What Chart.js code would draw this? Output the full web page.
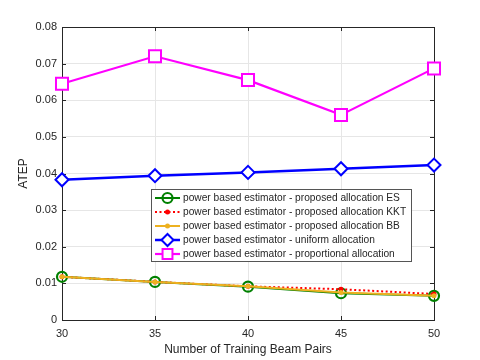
<!DOCTYPE html>
<html>
<head>
<meta charset="utf-8">
<script src="https://cdn.jsdelivr.net/npm/chart.js@4/dist/chart.umd.min.js"></script>
<style>
  html, body { margin: 0; padding: 0; background: #fff; }
  canvas { display: block; }
</style>
</head>
<body>
<canvas id="chart" width="480" height="360"></canvas>
<script>
const beamPairs = [30, 35, 40, 45, 50];
const yTicks = [0, 0.01, 0.02, 0.03, 0.04, 0.05, 0.06, 0.07, 0.08];

const esValues = [0.0118, 0.0104, 0.0091, 0.0073, 0.0066];
const kktValues = [0.0118, 0.0104, 0.0092, 0.0084, 0.0071];
const bbValues = [0.0118, 0.0104, 0.0092, 0.0075, 0.0066];
const uniformValues = [0.0383, 0.0394, 0.0403, 0.0413, 0.0423];
const proportionalValues = [0.0645, 0.0720, 0.0655, 0.0560, 0.0687];

const seriesLabels = [
  "power based estimator - proposed allocation ES",
  "power based estimator - proposed allocation KKT",
  "power based estimator - proposed allocation BB",
  "power based estimator - uniform allocation",
  "power based estimator - proportional allocation",
];

const FONT = "'Liberation Sans', Arial, sans-serif";
const AXIS_COLOR = "#262626";

function toPoints(values) {
  return values.map((v, i) => ({ x: beamPairs[i], y: v }));
}

const datasets = [
  {
    label: seriesLabels[4],
    data: toPoints(proportionalValues),
    borderColor: "#ff00ff",
    backgroundColor: "#ffffff",
    borderWidth: 2.2,
    pointStyle: "rect",
    pointRadius: 8.5,
    pointBorderWidth: 2,
    order: 5,
  },
  {
    label: seriesLabels[3],
    data: toPoints(uniformValues),
    borderColor: "#0000ff",
    backgroundColor: "#ffffff",
    borderWidth: 2.5,
    pointStyle: "rectRot",
    pointRadius: 6.5,
    pointBorderWidth: 2,
    order: 4,
  },
  {
    label: seriesLabels[0],
    data: toPoints(esValues),
    borderColor: "#008000",
    backgroundColor: "rgba(0,0,0,0)",
    borderWidth: 2,
    pointStyle: "circle",
    pointRadius: 5,
    pointBorderWidth: 2.2,
    order: 3,
  },
  {
    label: seriesLabels[1],
    data: toPoints(kktValues),
    borderColor: "#ff0000",
    backgroundColor: "#ff0000",
    borderWidth: 2,
    borderDash: [2, 2.5],
    pointStyle: "circle",
    pointRadius: 2.5,
    pointBorderWidth: 0,
    order: 2,
  },
  {
    label: seriesLabels[2],
    data: toPoints(bbValues),
    borderColor: "#edb120",
    backgroundColor: "#edb120",
    borderWidth: 2,
    pointStyle: "circle",
    pointRadius: 2.5,
    pointBorderWidth: 0,
    order: 1,
  },
];
datasets.forEach((d) => { d.clip = false; });

// axes box + inward ticks, like the original plot
const boxPlugin = {
  id: "box",
  beforeDatasetsDraw(chart) {
    const { ctx, chartArea: a, scales } = chart;
    ctx.save();
    ctx.strokeStyle = AXIS_COLOR;
    ctx.lineWidth = 1;
    ctx.strokeRect(a.left + 0.5, a.top + 0.5, a.right - a.left, a.bottom - a.top);
    ctx.beginPath();
    beamPairs.forEach((v) => {
      const px = Math.round(scales.x.getPixelForValue(v)) + 0.5;
      ctx.moveTo(px, a.bottom); ctx.lineTo(px, a.bottom - 4);
      ctx.moveTo(px, a.top); ctx.lineTo(px, a.top + 4);
    });
    yTicks.forEach((v) => {
      const py = Math.round(scales.y.getPixelForValue(v)) + 0.5;
      ctx.moveTo(a.left, py); ctx.lineTo(a.left + 4, py);
      ctx.moveTo(a.right, py); ctx.lineTo(a.right - 4, py);
    });
    ctx.stroke();
    ctx.restore();
  },
};

// legend box drawn inside the plot with line + marker samples
const legendPlugin = {
  id: "boxLegend",
  afterDraw(chart) {
    const ctx = chart.ctx;
    const x0 = 151, y0 = 189, w = 260, h = 72, rowH = 14;
    ctx.save();
    ctx.fillStyle = "#ffffff";
    ctx.fillRect(x0, y0, w, h);
    ctx.strokeStyle = "#555555";
    ctx.lineWidth = 1;
    ctx.strokeRect(x0 + 0.5, y0 + 0.5, w, h);
    const order = [2, 3, 4, 1, 0];
    order.forEach((di, row) => {
      const ds = chart.data.datasets[di];
      const cy = y0 + 9 + row * rowH;
      ctx.save();
      ctx.strokeStyle = ds.borderColor;
      ctx.lineWidth = ds.borderWidth;
      ctx.setLineDash(ds.borderDash || []);
      ctx.beginPath();
      ctx.moveTo(155, cy);
      ctx.lineTo(180, cy);
      ctx.stroke();
      ctx.restore();
      ctx.save();
      ctx.strokeStyle = ds.borderColor;
      ctx.fillStyle = ds.backgroundColor;
      ctx.lineWidth = ds.pointBorderWidth || 0.01;
      const r = ds.pointStyle === "rect" ? 7 : Math.min(ds.pointRadius, 6);
      Chart.helpers.drawPoint(ctx, {
        pointStyle: ds.pointStyle,
        rotation: 0,
        radius: r,
        borderWidth: ds.pointBorderWidth,
      }, 167.5, cy);
      ctx.restore();
      ctx.fillStyle = AXIS_COLOR;
      ctx.font = "10.2px " + FONT;
      ctx.textBaseline = "middle";
      ctx.fillText(ds.label, 183, cy + 0.5);
    });
    ctx.restore();
  },
};

new Chart(document.getElementById("chart").getContext("2d"), {
  type: "line",
  data: { datasets },
  options: {
    responsive: false,
    animation: false,
    layout: { padding: { top: 27, right: 46, left: 0, bottom: 0 } },
    plugins: {
      legend: { display: false },
      tooltip: { enabled: false },
    },
    scales: {
      x: {
        type: "linear",
        min: 30,
        max: 50,
        afterBuildTicks: (s) => { s.ticks = beamPairs.map((v) => ({ value: v })); },
        afterFit: (s) => { s.height = 40; },
        ticks: { color: AXIS_COLOR, font: { family: FONT, size: 11 }, padding: 7 },
        grid: { color: "#e6e6e6", drawTicks: false },
        border: { display: false },
        title: {
          display: true,
          text: "Number of Training Beam Pairs",
          color: AXIS_COLOR,
          font: { family: FONT, size: 12 },
          padding: { top: 2, bottom: 3 },
        },
      },
      y: {
        min: 0,
        max: 0.08,
        afterBuildTicks: (s) => { s.ticks = yTicks.map((v) => ({ value: v })); },
        afterFit: (s) => { s.width = 62; },
        ticks: {
          color: AXIS_COLOR,
          font: { family: FONT, size: 11 },
          padding: 5,
          callback: (v) => (v === 0 ? "0" : v.toFixed(2)),
        },
        grid: { color: "#e6e6e6", drawTicks: false },
        border: { display: false },
        title: {
          display: true,
          text: "ATEP",
          color: AXIS_COLOR,
          font: { family: FONT, size: 12 },
          padding: { top: 16, bottom: 4 },
        },
      },
    },
  },
  plugins: [boxPlugin, legendPlugin],
});
</script>
</body>
</html>
